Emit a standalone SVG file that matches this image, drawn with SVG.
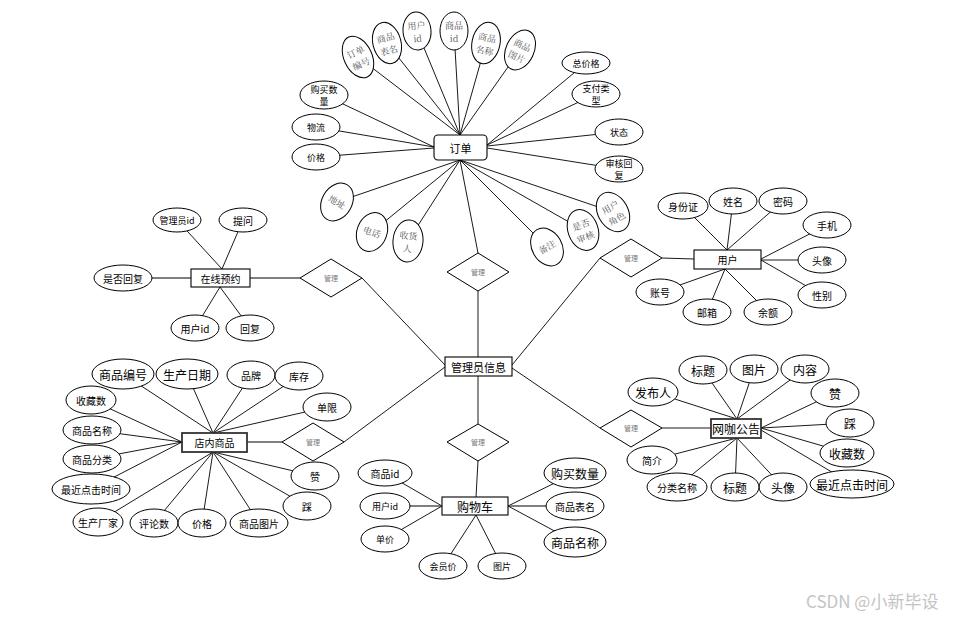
<svg xmlns="http://www.w3.org/2000/svg" width="955" height="617" viewBox="0 0 955 617">
<style>
.l{stroke:#000;stroke-width:0.9;fill:none}
.lg{stroke:#555;stroke-width:1.6;fill:none}
.e{fill:#fff;stroke:#000;stroke-width:1}
.b{fill:#fff;stroke:#000;stroke-width:1.1}
.bb{fill:#fff;stroke:#333;stroke-width:1.8}
.d{fill:#fff;stroke:#000;stroke-width:1}
text{font-family:"Noto Sans CJK SC","Noto Sans",sans-serif;text-anchor:middle;dominant-baseline:central;fill:#000;font-size:10px}
.s{font-size:12px}
.m{font-size:9px}
.dt{font-size:7px;fill:#777}
.g{fill:#555;font-family:"Noto Serif CJK SC","Liberation Serif","Noto Sans CJK SC",serif;font-size:9px}
.wm{font-size:17px;fill:#c4c4c4;text-anchor:start}
</style>
<rect width="955" height="617" fill="#fff"/>
<g id="connectors">
<line class="l" x1="358" y1="57" x2="460" y2="135"/>
<line class="l" x1="387" y1="43" x2="460" y2="135"/>
<line class="l" x1="417" y1="31" x2="460" y2="135"/>
<line class="l" x1="454" y1="31" x2="460" y2="135"/>
<line class="l" x1="486" y1="43" x2="460" y2="135"/>
<line class="l" x1="520" y1="50" x2="460" y2="135"/>
<line class="l" x1="586" y1="63" x2="487" y2="145"/>
<line class="l" x1="596" y1="94" x2="487" y2="145"/>
<line class="l" x1="619" y1="132" x2="487" y2="146"/>
<line class="l" x1="619" y1="169" x2="487" y2="148"/>
<line class="l" x1="324" y1="95" x2="434" y2="147"/>
<line class="l" x1="316" y1="127" x2="434" y2="147"/>
<line class="l" x1="316" y1="157" x2="434" y2="148"/>
<line class="l" x1="337" y1="202" x2="460" y2="160"/>
<line class="l" x1="372" y1="232" x2="460" y2="160"/>
<line class="l" x1="408" y1="241" x2="460" y2="160"/>
<line class="l" x1="547" y1="247" x2="460" y2="160"/>
<line class="l" x1="583" y1="230" x2="460" y2="160"/>
<line class="l" x1="613" y1="212" x2="460" y2="160"/>
<line class="l" x1="460" y1="160" x2="478" y2="253"/>
<line class="l" x1="478" y1="291" x2="478" y2="357"/>
<line class="l" x1="177" y1="220" x2="222" y2="269"/>
<line class="l" x1="243" y1="220" x2="222" y2="269"/>
<line class="lg" x1="123" y1="278" x2="191" y2="278"/>
<line class="l" x1="195" y1="328" x2="220" y2="287"/>
<line class="l" x1="250" y1="328" x2="220" y2="287"/>
<line class="lg" x1="250" y1="278" x2="300" y2="278"/>
<line class="l" x1="362" y1="278" x2="445" y2="365"/>
<line class="l" x1="683" y1="206" x2="727" y2="250"/>
<line class="l" x1="733" y1="201" x2="727" y2="250"/>
<line class="l" x1="783" y1="201" x2="727" y2="250"/>
<line class="l" x1="827" y1="225" x2="761" y2="259"/>
<line class="l" x1="822" y1="260" x2="761" y2="260"/>
<line class="l" x1="822" y1="295" x2="761" y2="260"/>
<line class="l" x1="660" y1="292" x2="725" y2="269"/>
<line class="l" x1="707" y1="312" x2="725" y2="269"/>
<line class="l" x1="768" y1="312" x2="725" y2="269"/>
<line class="l" x1="694" y1="259" x2="662" y2="258"/>
<line class="l" x1="600" y1="258" x2="512" y2="365"/>
<line class="l" x1="123" y1="374" x2="213" y2="433"/>
<line class="l" x1="187" y1="374" x2="213" y2="433"/>
<line class="l" x1="251" y1="375" x2="213" y2="433"/>
<line class="l" x1="299" y1="376" x2="213" y2="433"/>
<line class="l" x1="327" y1="407" x2="213" y2="433"/>
<line class="l" x1="91" y1="400" x2="182" y2="442"/>
<line class="l" x1="92" y1="430" x2="182" y2="442"/>
<line class="l" x1="92" y1="459" x2="182" y2="442"/>
<line class="l" x1="91" y1="489" x2="182" y2="442"/>
<line class="l" x1="98" y1="522" x2="213" y2="452"/>
<line class="l" x1="154" y1="523" x2="213" y2="452"/>
<line class="l" x1="202" y1="523" x2="213" y2="452"/>
<line class="l" x1="259" y1="523" x2="213" y2="452"/>
<line class="l" x1="315" y1="476" x2="213" y2="452"/>
<line class="l" x1="307" y1="506" x2="213" y2="452"/>
<line class="lg" x1="247" y1="442" x2="282" y2="442"/>
<line class="l" x1="344" y1="442" x2="445" y2="367"/>
<line class="l" x1="478" y1="376" x2="478" y2="424"/>
<line class="l" x1="478" y1="461" x2="476" y2="497"/>
<line class="l" x1="385" y1="473" x2="442" y2="506"/>
<line class="lg" x1="385" y1="506" x2="442" y2="506"/>
<line class="l" x1="385" y1="539" x2="442" y2="506"/>
<line class="l" x1="443" y1="566" x2="476" y2="515"/>
<line class="l" x1="502" y1="566" x2="476" y2="515"/>
<line class="l" x1="575" y1="473" x2="508" y2="506"/>
<line class="lg" x1="575" y1="506" x2="508" y2="506"/>
<line class="l" x1="575" y1="542" x2="508" y2="506"/>
<line class="l" x1="653" y1="392" x2="737" y2="419"/>
<line class="l" x1="703" y1="370" x2="737" y2="419"/>
<line class="l" x1="754" y1="369" x2="737" y2="419"/>
<line class="l" x1="805" y1="369" x2="737" y2="419"/>
<line class="l" x1="835" y1="393" x2="761" y2="428"/>
<line class="l" x1="850" y1="423" x2="761" y2="428"/>
<line class="l" x1="847" y1="453" x2="761" y2="428"/>
<line class="l" x1="852" y1="484" x2="761" y2="430"/>
<line class="l" x1="783" y1="487" x2="737" y2="438"/>
<line class="l" x1="735" y1="487" x2="737" y2="438"/>
<line class="l" x1="677" y1="487" x2="737" y2="438"/>
<line class="l" x1="652" y1="460" x2="737" y2="438"/>
<line class="l" x1="711" y1="428" x2="662" y2="428"/>
<line class="l" x1="600" y1="428" x2="512" y2="368"/>
</g>

<g id="order">
<rect class="b" x="434" y="135" width="53" height="25" rx="4"/>
<text x="460.5" y="147.5" style="font-size:11px">订单</text>
</g>
<g id="order-no" transform="translate(358,57) rotate(-25)"><ellipse class="e" rx="14" ry="22"/><text class="g"><tspan x="0" y="-6">订单</tspan><tspan x="0" y="7">编号</tspan></text></g>
<g id="order-tablename" transform="translate(387,43) rotate(-15)"><ellipse class="e" rx="14" ry="21"/><text class="g"><tspan x="0" y="-6">商品</tspan><tspan x="0" y="7">表名</tspan></text></g>
<g id="order-userid" transform="translate(417,31) rotate(-5)"><ellipse class="e" rx="14" ry="19"/><text class="g"><tspan x="0" y="-6">用户</tspan><tspan x="0" y="7">id</tspan></text></g>
<g id="order-goodsid"><ellipse class="e" cx="454" cy="31" rx="14" ry="19"/><text class="g"><tspan x="454" y="25">商品</tspan><tspan x="454" y="38">id</tspan></text></g>
<g id="order-goodsname" transform="translate(486,43) rotate(12)"><ellipse class="e" rx="14" ry="21"/><text class="g"><tspan x="0" y="-6">商品</tspan><tspan x="0" y="7">名称</tspan></text></g>
<g id="order-goodspic" transform="translate(520,50) rotate(25)"><ellipse class="e" rx="14" ry="21"/><text class="g"><tspan x="0" y="-6">商品</tspan><tspan x="0" y="7">图片</tspan></text></g>
<g id="order-total"><ellipse class="e" cx="586" cy="63" rx="24" ry="11"/><text class="m" x="586" y="63">总价格</text></g>
<g id="order-paytype"><ellipse class="e" cx="596" cy="94" rx="24" ry="13"/><text class="m"><tspan x="596" y="88">支付类</tspan><tspan x="596" y="100">型</tspan></text></g>
<g id="order-status"><ellipse class="e" cx="619" cy="132" rx="24" ry="13"/><text class="m" x="619" y="132">状态</text></g>
<g id="order-review"><ellipse class="e" cx="619" cy="169" rx="24" ry="13"/><text class="m"><tspan x="619" y="163">审核回</tspan><tspan x="619" y="175">复</tspan></text></g>
<g id="order-qty"><ellipse class="e" cx="324" cy="95" rx="24" ry="14"/><text class="m"><tspan x="324" y="89">购买数</tspan><tspan x="324" y="101">量</tspan></text></g>
<g id="order-logistics"><ellipse class="e" cx="316" cy="127" rx="24" ry="13"/><text class="m" x="316" y="127">物流</text></g>
<g id="order-price"><ellipse class="e" cx="316" cy="157" rx="24" ry="13"/><text class="m" x="316" y="157">价格</text></g>
<g id="order-address" transform="translate(337,202) rotate(30)"><ellipse class="e" rx="15" ry="20"/><text class="g" x="0" y="0">地址</text></g>
<g id="order-phone" transform="translate(372,232) rotate(20)"><ellipse class="e" rx="15" ry="20"/><text class="g" x="0" y="0">电话</text></g>
<g id="order-receiver" transform="translate(408,241) rotate(5)"><ellipse class="e" rx="15" ry="21"/><text class="g"><tspan x="0" y="-6">收货</tspan><tspan x="0" y="7">人</tspan></text></g>
<g id="order-remark" transform="translate(547,247) rotate(-30)"><ellipse class="e" rx="15" ry="20"/><text class="g" x="0" y="0">备注</text></g>
<g id="order-audited" transform="translate(583,230) rotate(-20)"><ellipse class="e" rx="15" ry="21"/><text class="g"><tspan x="0" y="-6">是否</tspan><tspan x="0" y="7">审核</tspan></text></g>
<g id="order-role" transform="translate(613,212) rotate(-30)"><ellipse class="e" rx="15" ry="21"/><text class="g"><tspan x="0" y="-6">用户</tspan><tspan x="0" y="7">角色</tspan></text></g>

<g id="rel-order"><polygon class="d" points="478,253 509,272 478,291 447,272"/><text class="dt" x="478" y="272">管理</text></g>
<g id="rel-booking"><polygon class="d" points="331,259 362,278 331,297 300,278"/><text class="dt" x="331" y="278">管理</text></g>
<g id="rel-user"><polygon class="d" points="631,239 662,258 631,277 600,258"/><text class="dt" x="631" y="258">管理</text></g>
<g id="rel-goods"><polygon class="d" points="313,423 344,442 313,461 282,442"/><text class="dt" x="313" y="442">管理</text></g>
<g id="rel-cart"><polygon class="d" points="478,424 509,442 478,461 447,442"/><text class="dt" x="478" y="442">管理</text></g>
<g id="rel-notice"><polygon class="d" points="631,410 662,428 631,447 600,428"/><text class="dt" x="631" y="428">管理</text></g>

<g id="admin"><rect class="b" x="445" y="357" width="67" height="19"/><text x="478.5" y="366.5" style="font-size:11px">管理员信息</text></g>

<g id="booking"><rect class="b" x="191" y="269" width="59" height="18"/><text x="220.5" y="278">在线预约</text></g>
<g id="booking-adminid"><ellipse class="e" cx="177" cy="220" rx="24" ry="12"/><text class="m" x="177" y="220">管理员id</text></g>
<g id="booking-question"><ellipse class="e" cx="243" cy="220" rx="24" ry="12"/><text x="243" y="220">提问</text></g>
<g id="booking-replied"><ellipse class="e" cx="123" cy="278" rx="29" ry="13"/><text x="123" y="278">是否回复</text></g>
<g id="booking-userid"><ellipse class="e" cx="195" cy="328" rx="24" ry="13"/><text x="195" y="328">用户id</text></g>
<g id="booking-reply"><ellipse class="e" cx="250" cy="328" rx="24" ry="13"/><text x="250" y="328">回复</text></g>

<g id="user"><rect class="b" x="694" y="250" width="67" height="19"/><text x="727.5" y="259.5">用户</text></g>
<g id="user-idcard"><ellipse class="e" cx="683" cy="206" rx="25" ry="13"/><text x="683" y="206">身份证</text></g>
<g id="user-name"><ellipse class="e" cx="733" cy="201" rx="24" ry="13"/><text x="733" y="201">姓名</text></g>
<g id="user-pwd"><ellipse class="e" cx="783" cy="201" rx="24" ry="13"/><text x="783" y="201">密码</text></g>
<g id="user-phone"><ellipse class="e" cx="827" cy="225" rx="24" ry="13"/><text x="827" y="225">手机</text></g>
<g id="user-avatar"><ellipse class="e" cx="822" cy="260" rx="24" ry="13"/><text x="822" y="260">头像</text></g>
<g id="user-gender"><ellipse class="e" cx="822" cy="295" rx="24" ry="13"/><text x="822" y="295">性别</text></g>
<g id="user-account"><ellipse class="e" cx="660" cy="292" rx="24" ry="13"/><text x="660" y="292">账号</text></g>
<g id="user-email"><ellipse class="e" cx="707" cy="312" rx="24" ry="13"/><text x="707" y="312">邮箱</text></g>
<g id="user-balance"><ellipse class="e" cx="768" cy="312" rx="24" ry="13"/><text x="768" y="312">余额</text></g>

<g id="goods"><rect class="bb" x="182" y="433" width="65" height="19"/><text x="214.5" y="442.5">店内商品</text></g>
<g id="goods-no"><ellipse class="e" cx="123" cy="374" rx="31" ry="15"/><text class="s" x="123" y="374">商品编号</text></g>
<g id="goods-date"><ellipse class="e" cx="187" cy="374" rx="31" ry="15"/><text class="s" x="187" y="374">生产日期</text></g>
<g id="goods-brand"><ellipse class="e" cx="251" cy="375" rx="24" ry="14"/><text x="251" y="375">品牌</text></g>
<g id="goods-stock"><ellipse class="e" cx="299" cy="376" rx="24" ry="14"/><text x="299" y="376">库存</text></g>
<g id="goods-limit"><ellipse class="e" cx="327" cy="407" rx="24" ry="14"/><text x="327" y="407">单限</text></g>
<g id="goods-fav"><ellipse class="e" cx="91" cy="400" rx="25" ry="14"/><text x="91" y="400">收藏数</text></g>
<g id="goods-name"><ellipse class="e" cx="92" cy="430" rx="29" ry="14"/><text x="92" y="430">商品名称</text></g>
<g id="goods-cat"><ellipse class="e" cx="92" cy="459" rx="29" ry="14"/><text x="92" y="459">商品分类</text></g>
<g id="goods-click"><ellipse class="e" cx="91" cy="489" rx="39" ry="15"/><text x="91" y="489">最近点击时间</text></g>
<g id="goods-maker"><ellipse class="e" cx="98" cy="522" rx="25" ry="14"/><text x="98" y="522">生产厂家</text></g>
<g id="goods-comments"><ellipse class="e" cx="154" cy="523" rx="24" ry="14"/><text x="154" y="523">评论数</text></g>
<g id="goods-price"><ellipse class="e" cx="202" cy="523" rx="24" ry="14"/><text x="202" y="523">价格</text></g>
<g id="goods-pic"><ellipse class="e" cx="259" cy="523" rx="29" ry="14"/><text x="259" y="523">商品图片</text></g>
<g id="goods-like"><ellipse class="e" cx="315" cy="476" rx="24" ry="14"/><text x="315" y="476">赞</text></g>
<g id="goods-dislike"><ellipse class="e" cx="307" cy="506" rx="24" ry="14"/><text x="307" y="506">踩</text></g>

<g id="cart"><rect class="b" x="442" y="497" width="66" height="18"/><text class="s" x="475" y="506">购物车</text></g>
<g id="cart-goodsid"><ellipse class="e" cx="385" cy="473" rx="27" ry="13"/><text x="385" y="473">商品id</text></g>
<g id="cart-userid"><ellipse class="e" cx="385" cy="506" rx="25" ry="13"/><text class="m" x="385" y="506">用户id</text></g>
<g id="cart-unitprice"><ellipse class="e" cx="385" cy="539" rx="24" ry="13"/><text class="m" x="385" y="539">单价</text></g>
<g id="cart-memberprice"><ellipse class="e" cx="443" cy="566" rx="24" ry="13"/><text class="m" x="443" y="566">会员价</text></g>
<g id="cart-pic"><ellipse class="e" cx="502" cy="566" rx="24" ry="13"/><text class="m" x="502" y="566">图片</text></g>
<g id="cart-qty"><ellipse class="e" cx="575" cy="473" rx="31" ry="15"/><text class="s" x="575" y="473">购买数量</text></g>
<g id="cart-tablename"><ellipse class="e" cx="575" cy="506" rx="29" ry="14"/><text x="575" y="506">商品表名</text></g>
<g id="cart-goodsname"><ellipse class="e" cx="575" cy="542" rx="31" ry="15"/><text class="s" x="575" y="542">商品名称</text></g>

<g id="notice"><rect class="bb" x="711" y="419" width="50" height="19"/><text class="s" x="736" y="428.5">网咖公告</text></g>
<g id="notice-publisher"><ellipse class="e" cx="653" cy="392" rx="25" ry="14"/><text class="s" x="653" y="392">发布人</text></g>
<g id="notice-title"><ellipse class="e" cx="703" cy="370" rx="24" ry="14"/><text class="s" x="703" y="370">标题</text></g>
<g id="notice-pic"><ellipse class="e" cx="754" cy="369" rx="24" ry="14"/><text class="s" x="754" y="369">图片</text></g>
<g id="notice-content"><ellipse class="e" cx="805" cy="369" rx="24" ry="14"/><text class="s" x="805" y="369">内容</text></g>
<g id="notice-like"><ellipse class="e" cx="835" cy="393" rx="24" ry="14"/><text class="s" x="835" y="393">赞</text></g>
<g id="notice-dislike"><ellipse class="e" cx="850" cy="423" rx="24" ry="14"/><text class="s" x="850" y="423">踩</text></g>
<g id="notice-fav"><ellipse class="e" cx="847" cy="453" rx="27" ry="14"/><text class="s" x="847" y="453">收藏数</text></g>
<g id="notice-click"><ellipse class="e" cx="852" cy="484" rx="42" ry="14"/><text class="s" x="852" y="484">最近点击时间</text></g>
<g id="notice-avatar"><ellipse class="e" cx="783" cy="487" rx="24" ry="14"/><text class="s" x="783" y="487">头像</text></g>
<g id="notice-title2"><ellipse class="e" cx="735" cy="487" rx="24" ry="14"/><text class="s" x="735" y="487">标题</text></g>
<g id="notice-cat"><ellipse class="e" cx="677" cy="487" rx="30" ry="14"/><text x="677" y="487">分类名称</text></g>
<g id="notice-intro"><ellipse class="e" cx="652" cy="460" rx="25" ry="14"/><text x="652" y="460">简介</text></g>

<text class="wm" x="806" y="600">CSDN @小新毕设</text>
</svg>
